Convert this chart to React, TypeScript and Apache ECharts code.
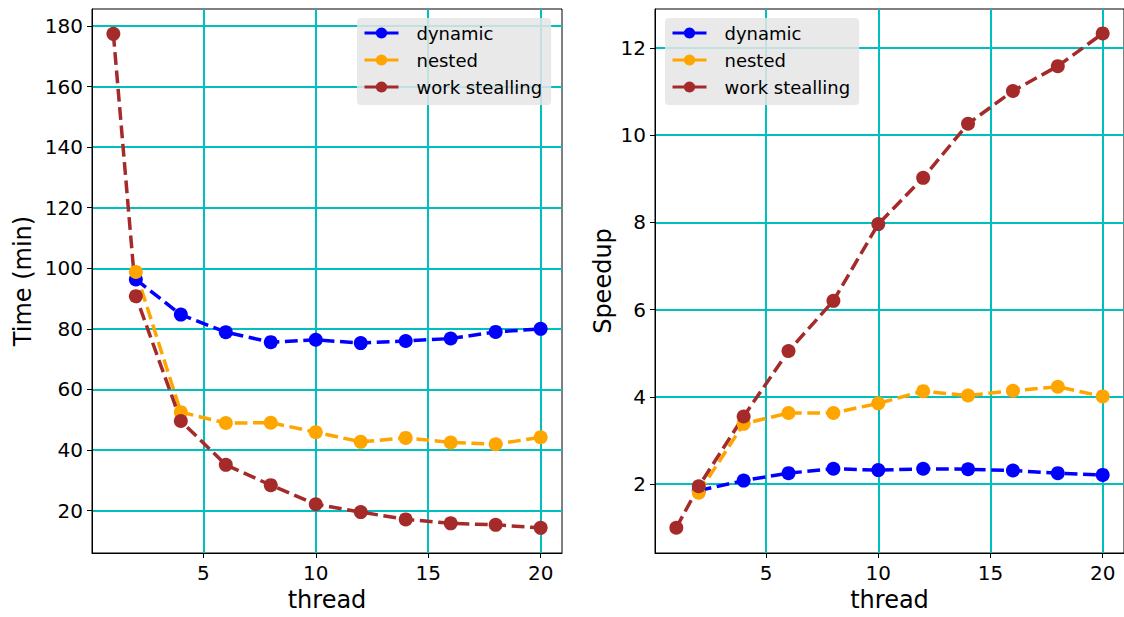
import React, { useEffect, useRef } from "react";
import * as echarts from "echarts";

const threadsAll = [1, 2, 4, 6, 8, 10, 12, 14, 16, 18, 20];
const threads = [2, 4, 6, 8, 10, 12, 14, 16, 18, 20];

const timeDynamic = [96.3, 84.7, 78.9, 75.6, 76.4, 75.3, 76.0, 76.8, 79.0, 80.0];
const timeNested = [98.8, 52.5, 48.9, 49.0, 45.9, 42.7, 44.0, 42.5, 41.9, 44.2];
const timeStealing = [177.4, 90.8, 49.6, 35.1, 28.4, 22.1, 19.5, 17.1, 15.8, 15.3, 14.3];

const speedDynamic = [1.85, 2.08, 2.25, 2.35, 2.32, 2.35, 2.34, 2.31, 2.25, 2.21];
const speedNested = [1.8, 3.38, 3.63, 3.63, 3.85, 4.13, 4.03, 4.14, 4.23, 4.01];
const speedStealing = [1.0, 1.95, 3.55, 5.05, 6.2, 7.96, 9.02, 10.26, 11.01, 11.58, 12.33];

const xTicks = [5, 10, 15, 20];
const timeTicks = [20, 40, 60, 80, 100, 120, 140, 160, 180];
const speedTicks = [2, 4, 6, 8, 10, 12];

const names = ["dynamic", "nested", "work stealling"];
const colors = ["#0000ff", "#ffa500", "#a52a2a"];

const FONT = "DejaVu Sans";

function pairs(xs: number[], ys: number[]) {
  return xs.map((x, i) => [x, ys[i]]);
}

export default function App() {
  const ref = useRef<HTMLDivElement>(null);
  useEffect(() => {
    if (!ref.current) return;
    const chart = echarts.init(ref.current, null, { renderer: "svg" });

    const xAxisBase = (gridIndex: number) => ({
      type: "value",
      gridIndex,
      min: 0.05,
      max: 20.95,
      name: "thread",
      nameLocation: "middle",
      nameGap: 35,
      nameTextStyle: { fontFamily: FONT, fontSize: 24, color: "#000" },
      axisLine: { show: true, onZero: false, lineStyle: { color: "#000", width: 1 } },
      axisTick: { show: true, customValues: xTicks, length: 5, lineStyle: { color: "#000", width: 1 } },
      axisLabel: { customValues: xTicks, fontFamily: FONT, fontSize: 20, color: "#000", margin: 10 },
      splitLine: { show: true, lineStyle: { color: "#00bfbf", width: 2 } },
    });

    const yAxisBase = (gridIndex: number, min: number, max: number, ticks: number[], name: string, nameGap: number) => ({
      type: "value",
      gridIndex,
      min,
      max,
      name,
      nameLocation: "middle",
      nameGap,
      nameTextStyle: { fontFamily: FONT, fontSize: 24, color: "#000" },
      axisLine: { show: true, lineStyle: { color: "#000", width: 1 } },
      axisTick: { show: true, customValues: ticks, length: 5, lineStyle: { color: "#000", width: 1 } },
      axisLabel: { customValues: ticks, fontFamily: FONT, fontSize: 20, color: "#000", margin: 9 },
      splitLine: { show: true, lineStyle: { color: "#00bfbf", width: 2 } },
    });

    const mkSeries = (name: string, color: string, data: number[][], idx: number) => ({
      type: "line",
      name,
      xAxisIndex: idx,
      yAxisIndex: idx,
      data,
      symbol: "circle",
      symbolSize: 14,
      showAllSymbol: true,
      itemStyle: { color },
      lineStyle: { color, width: 3.5, type: [12.8, 5.6] },
      z: 3,
    });

    const legendBase = (left: number) => ({
      orient: "vertical",
      left,
      top: 18,
      padding: [6, 9, 9, 6],
      itemWidth: 34,
      itemHeight: 14,
      itemGap: 9,
      backgroundColor: "rgba(229,229,229,0.85)",
      borderRadius: 4,
      data: names,
      lineStyle: { type: "solid", width: 3 },
      textStyle: { fontFamily: FONT, fontSize: 18, color: "#000", padding: [0, 0, 0, 13], lineHeight: 18 },
    });

    chart.setOption({
      animation: false,
      backgroundColor: "#fff",
      grid: [
        { left: 92, top: 9, width: 470, height: 549, show: true, borderColor: "#000", borderWidth: 1, containLabel: false },
        { left: 655, top: 9, width: 471, height: 549, show: true, borderColor: "#000", borderWidth: 1, containLabel: false },
      ],
      xAxis: [xAxisBase(0), xAxisBase(1)],
      yAxis: [
        yAxisBase(0, 6.0, 185.6, timeTicks, "Time (min)", 57),
        yAxisBase(1, 0.42, 12.89, speedTicks, "Speedup", 40),
      ],
      legend: [legendBase(357), legendBase(665)],
      series: [
        mkSeries(names[0], colors[0], pairs(threads, timeDynamic), 0),
        mkSeries(names[1], colors[1], pairs(threads, timeNested), 0),
        mkSeries(names[2], colors[2], pairs(threadsAll, timeStealing), 0),
        mkSeries(names[0], colors[0], pairs(threads, speedDynamic), 1),
        mkSeries(names[1], colors[1], pairs(threads, speedNested), 1),
        mkSeries(names[2], colors[2], pairs(threadsAll, speedStealing), 1),
      ],
    });
    return () => chart.dispose();
  }, []);
  return (
    <div
      ref={ref}
      style={{ position: "fixed", left: 0, top: 0, width: 1124, height: 617 }}
    />
  );
}
